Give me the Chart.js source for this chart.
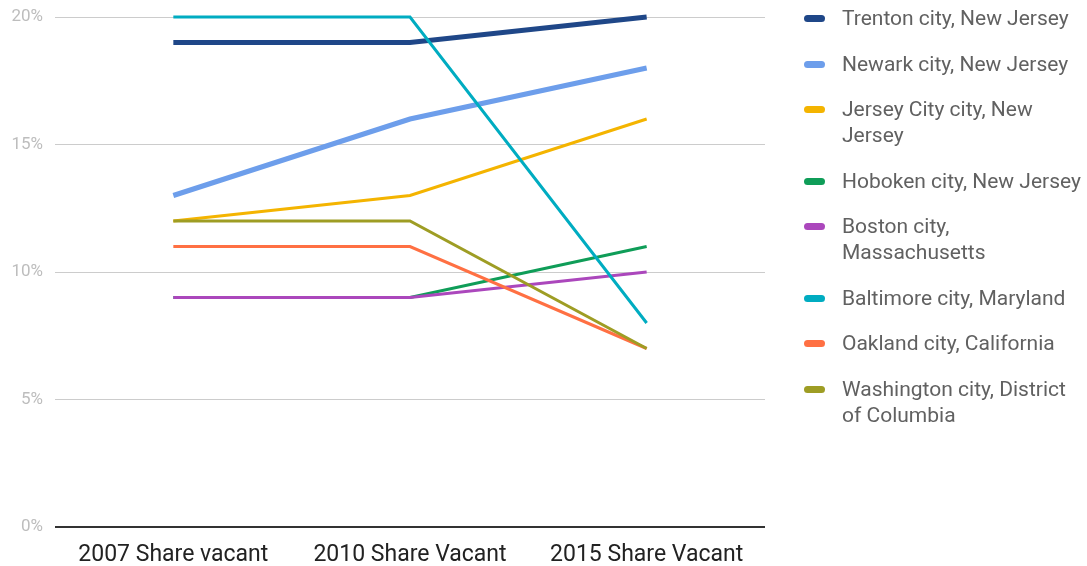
<!DOCTYPE html>
<html>
<head>
<meta charset="utf-8">
<script src="https://cdn.jsdelivr.net/npm/chart.js@4"></script>
<style>
  html, body { margin: 0; padding: 0; background: #fff; }
  #wrap { position: relative; width: 1087px; height: 566px; }
  canvas { position: absolute; left: 0; top: 0; }
  #legend { position: absolute; left: 804px; top: 5px; font-family: Roboto, sans-serif; font-size: 21px; line-height: 26px; color: #616161; }
  .item { position: relative; padding-left: 38px; margin-bottom: 19.5px; white-space: nowrap; }
  .mark { position: absolute; left: 0; top: 10px; width: 21px; height: 7px; border-radius: 4px; }
</style>
</head>
<body>
<div id="wrap">
  <canvas id="c" width="1087" height="566"></canvas>
  <div id="legend"></div>
</div>
<script>
const categories = ["2007 Share vacant", "2010 Share Vacant", "2015 Share Vacant"];
const seriesNames = [
  "Trenton city, New Jersey",
  "Newark city, New Jersey",
  "Jersey City city, New\nJersey",
  "Hoboken city, New Jersey",
  "Boston city,\nMassachusetts",
  "Baltimore city, Maryland",
  "Oakland city, California",
  "Washington city, District\nof Columbia"
];
const trenton    = [19, 19, 20];
const newark     = [13, 16, 18];
const jerseyCity = [12, 13, 16];
const hoboken    = [9, 9, 11];
const boston     = [9, 9, 10];
const baltimore  = [20, 20, 8];
const oakland    = [11, 11, 7];
const washington = [12, 12, 7];
const yTicks = [0, 5, 10, 15, 20];

const seriesValues = [trenton, newark, jerseyCity, hoboken, boston, baltimore, oakland, washington];
const colors = ["#1f4788", "#6d9eeb", "#f4b400", "#0f9d58", "#ab47bc", "#00acc1", "#ff7043", "#9e9d24"];
const widths = [5, 5, 3, 3, 3, 3, 3, 3];

const datasets = seriesValues.map((vals, i) => ({
  label: seriesNames[i].replace("\n", " "),
  data: vals,
  borderColor: colors[i],
  backgroundColor: colors[i],
  borderWidth: widths[i],
  pointRadius: 0,
  tension: 0,
  clip: false,
  order: seriesValues.length - i
}));

new Chart(document.getElementById("c"), {
  type: "line",
  data: { labels: categories, datasets },
  options: {
    responsive: false,
    animation: false,
    layout: { padding: { top: 17, right: 322, bottom: 2, left: 0 } },
    plugins: { legend: { display: false }, tooltip: { enabled: false } },
    scales: {
      x: {
        offset: true,
        afterFit: (s) => { s.height = 37; s.paddingLeft = 0; s.paddingRight = 0; },
        grid: { display: false },
        border: { display: false },
        ticks: { color: "#222", font: { family: "Roboto", size: 23 }, padding: 6, maxRotation: 0 }
      },
      y: {
        min: 0, max: 20,
        afterFit: (s) => { s.width = 55; s.paddingTop = 0; s.paddingBottom = 0; },
        afterBuildTicks: (s) => { s.ticks = yTicks.map(v => ({ value: v })); },
        border: { display: false },
        grid: {
          color: (ctx) => ctx.tick && ctx.tick.value === 0 ? "#333" : "#cccccc",
          lineWidth: (ctx) => ctx.tick && ctx.tick.value === 0 ? 2 : 1,
          drawTicks: false
        },
        ticks: { color: "#bdbdbd", font: { family: "Roboto", size: 17 }, padding: 12, callback: (v) => v + "%" }
      }
    }
  }
});

const legend = document.getElementById("legend");
seriesNames.forEach((name, i) => {
  const item = document.createElement("div");
  item.className = "item";
  const mark = document.createElement("span");
  mark.className = "mark";
  mark.style.background = colors[i];
  item.appendChild(mark);
  name.split("\n").forEach((line, j) => {
    if (j > 0) item.appendChild(document.createElement("br"));
    item.appendChild(document.createTextNode(line));
  });
  legend.appendChild(item);
});
</script>
</body>
</html>
